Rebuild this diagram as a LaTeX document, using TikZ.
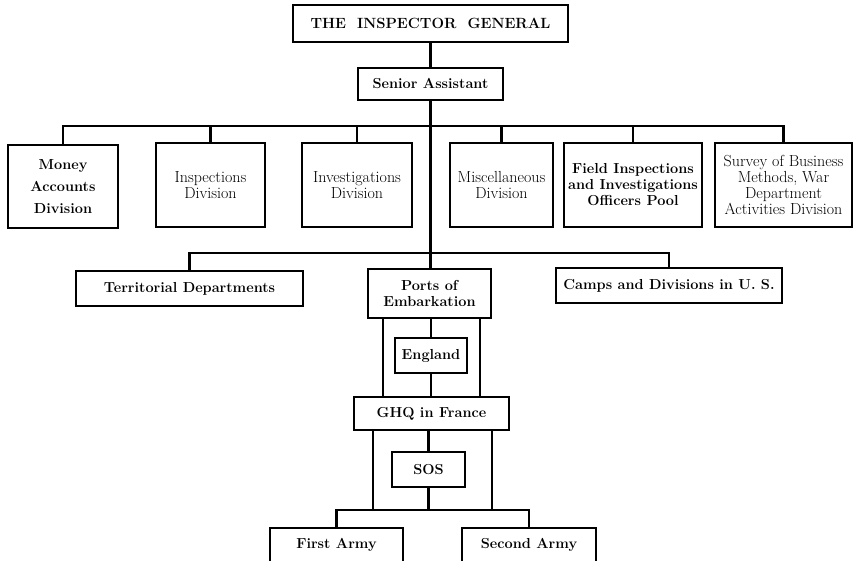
\documentclass[tikz,border=0pt]{standalone}
\usepackage{fontspec}
\begin{document}
\begin{tikzpicture}[x=1pt,y=-1pt,
  box/.style={draw, line width=1.3pt, rectangle, align=center, inner sep=1pt, font=\fontsize{14.5}{16}\selectfont\bfseries},
  rbox/.style={box, font=\fontsize{16}{16}\selectfont\addfontfeatures{FakeBold=0.8}},
  conn/.style={line width=2.6pt}]
\useasboundingbox (0,0) rectangle (854,560);
\node[box, minimum width=275, minimum height=37, font=\fontsize{14.8}{16}\selectfont\bfseries] (ig) at (430.5,23.5) {THE\ \ INSPECTOR\ \ GENERAL};
\node[box, minimum width=145, minimum height=32] (sa) at (430.5,84) {Senior Assistant};
\node[box, minimum width=110, minimum height=83, font=\fontsize{14.5}{22}\selectfont\bfseries] (money) at (63,186.5) {Money\\Accounts\\Division};
\node[rbox, minimum width=109, minimum height=84] (insp) at (210.5,185) {Inspections\\Division};
\node[rbox, minimum width=110, minimum height=84] (invest) at (357,185) {Investigations\\Division};
\node[rbox, minimum width=103, minimum height=84] (misc) at (501.5,185) {Miscellaneous\\Division};
\node[box, minimum width=138, minimum height=84] (field) at (633,185) {Field Inspections\\and Investigations\\Officers Pool};
\node[rbox, minimum width=137, minimum height=84] (survey) at (783.5,185) {Survey of Business\\Methods, War\\Department\\Activities Division};
\node[box, minimum width=227, minimum height=35] (terr) at (189.5,288.5) {Territorial Departments};
\node[box, minimum width=123, minimum height=49] (ports) at (429.5,293.5) {Ports of\\Embarkation};
\node[box, minimum width=226, minimum height=35] (camps) at (669,285.5) {Camps and Divisions in U. S.};
\node[box, minimum width=72, minimum height=35] (england) at (431,355.5) {England};
\node[box, minimum width=155, minimum height=33] (ghq) at (431.5,413.5) {GHQ in France};
\node[box, minimum width=73, minimum height=35] (sos) at (428.5,469.5) {SOS};
\node[box, minimum width=133, minimum height=52, text depth=22pt] (first) at (336.5,554) {First Army};
\node[box, minimum width=134, minimum height=52, text depth=22pt] (second) at (529,554) {Second Army};
% connectors
\coordinate (bus1) at (430.5,126);
\coordinate (bus2) at (430.5,253);
\coordinate (bus3) at (433,510);
\draw[conn] (ig.south) -- (sa.north);
\draw[conn] (sa.south) -- (sa.south |- ports.north);
\draw[conn] (money.north) -- (money.north |- bus1) -- (survey.north |- bus1) -- (survey.north);
\foreach \n in {insp,invest,misc,field} \draw[conn] (\n.north) -- (\n.north |- bus1);
\draw[conn] (terr.north) -- (terr.north |- bus2) -- (camps.north |- bus2) -- (camps.north);
\draw[conn] ([xshift=-46.5pt]ports.south) -- ([xshift=-46.5pt]ports.south |- ghq.north);
\draw[conn] ([xshift=50.5pt]ports.south) -- ([xshift=50.5pt]ports.south |- ghq.north);
\draw[conn] (england.north |- ports.south) -- (england.north);
\draw[conn] (england.south) -- (england.south |- ghq.north);
\draw[conn] ([xshift=-58.5pt]ghq.south) -- ([xshift=-58.5pt]ghq.south |- bus3);
\draw[conn] ([xshift=60.5pt]ghq.south) -- ([xshift=60.5pt]ghq.south |- bus3);
\draw[conn] (sos.north |- ghq.south) -- (sos.north);
\draw[conn] (sos.south) -- (sos.south |- bus3);
\draw[conn] (first.north) -- (first.north |- bus3) -- (second.north |- bus3) -- (second.north);
\end{tikzpicture}
\end{document}
